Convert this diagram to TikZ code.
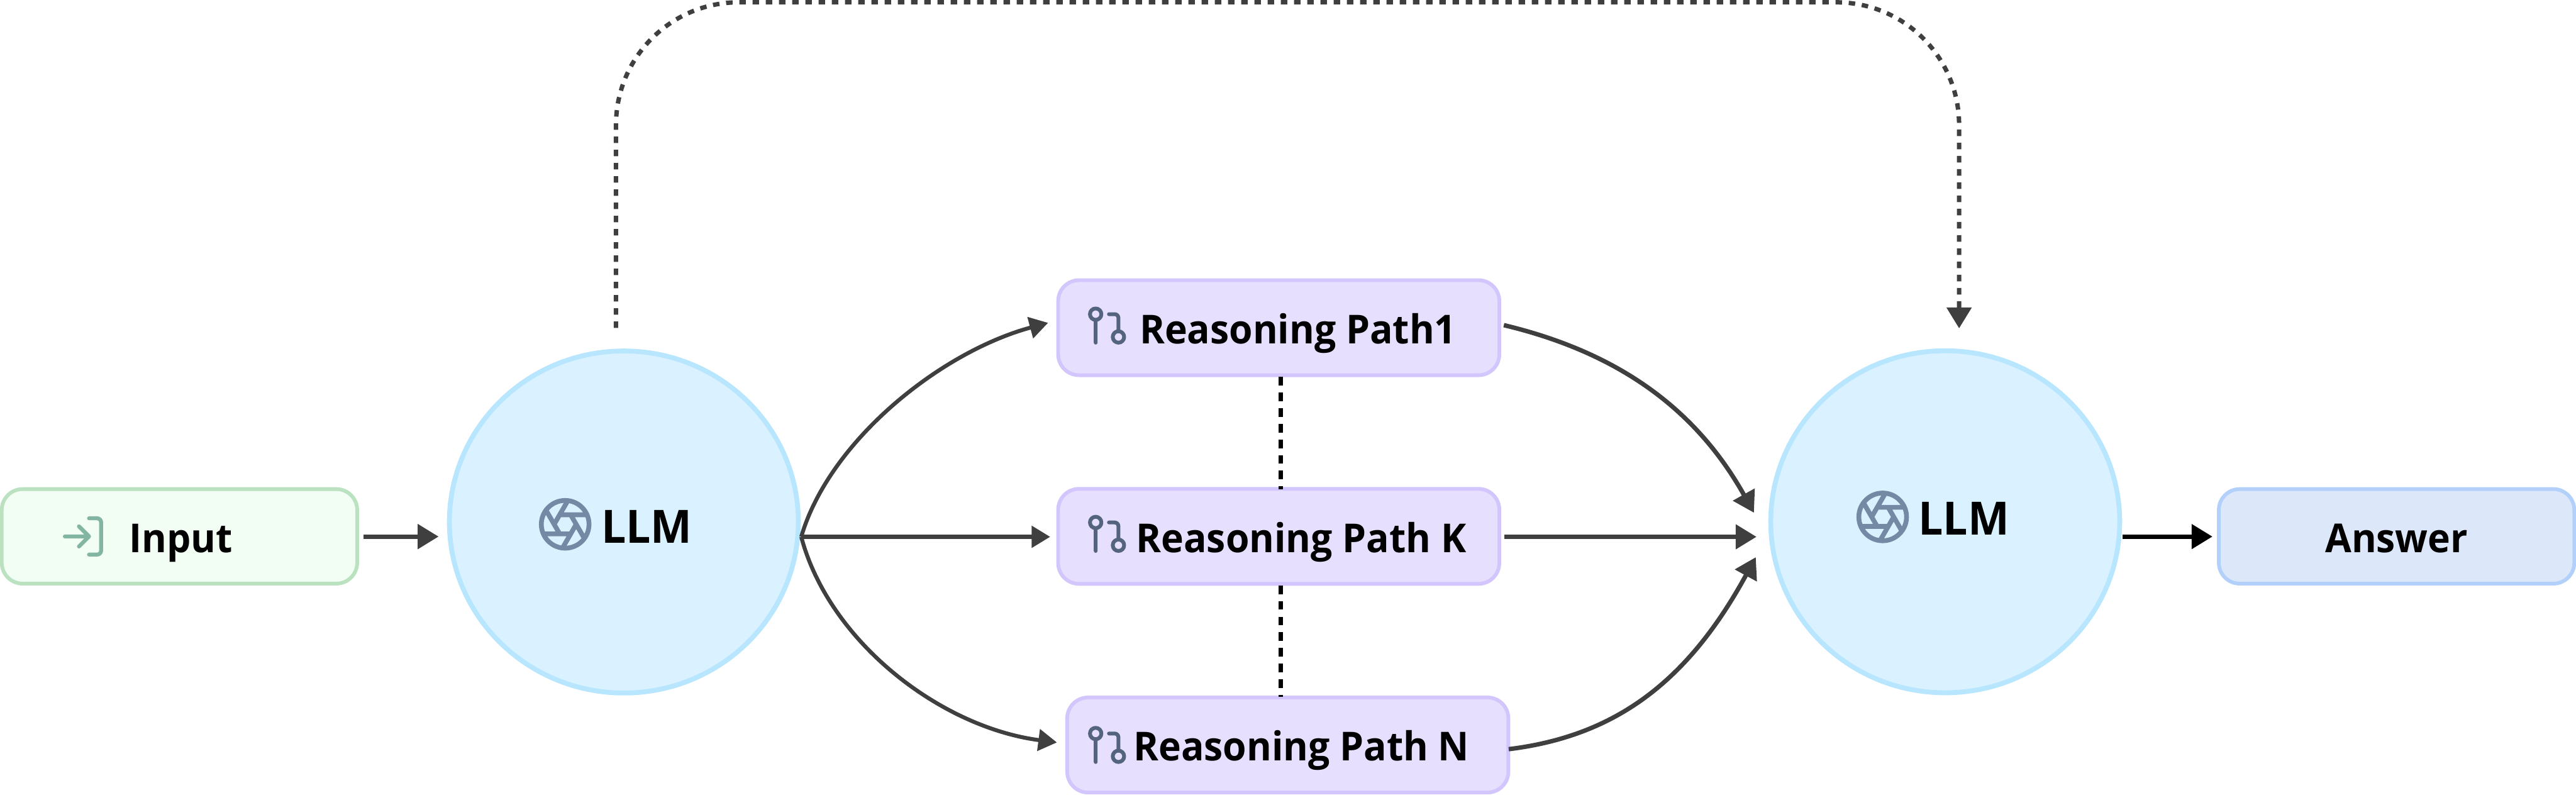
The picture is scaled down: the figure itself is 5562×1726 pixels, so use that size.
\documentclass[tikz,border=0pt]{standalone}
\usepackage{fontspec}
\setmainfont[FakeStretch=0.955]{Open Sans}
\usetikzlibrary{arrows.meta,shapes.geometric}
\definecolor{arrowgrey}{HTML}{3F3F3F}
\definecolor{inputfill}{HTML}{F2FDF4}
\definecolor{inputline}{HTML}{BBE2C0}
\definecolor{llmfill}{HTML}{DAF2FF}
\definecolor{llmline}{HTML}{B9E6FF}
\definecolor{pathfill}{HTML}{E6DFFE}
\definecolor{pathline}{HTML}{D3C6FD}
\definecolor{ansfill}{HTML}{DCE8FA}
\definecolor{ansline}{HTML}{B3D0FB}
\definecolor{iconin}{HTML}{83B5A3}
\definecolor{iconap}{HTML}{7489A3}
\definecolor{icongit}{HTML}{54647F}
\tikzset{
  boxbase/.style={draw,line width=.08cm,rounded corners=.45cm,inner sep=0pt,outer sep=0pt,
    font=\fontsize{24.5pt}{28pt}\selectfont\bfseries,text=black,
    text height=.9cm,text depth=.21cm},
  inputbox/.style={boxbase,fill=inputfill,draw=inputline,minimum width=7.67cm,minimum height=2.04cm},
  pathbox/.style={boxbase,fill=pathfill,draw=pathline,minimum width=9.52cm,minimum height=2.05cm},
  ansbox/.style={boxbase,fill=ansfill,draw=ansline,minimum width=7.67cm,minimum height=2.04cm},
  llmnode/.style={ellipse,draw=llmline,fill=llmfill,line width=.105cm,inner sep=0pt,outer sep=0pt,
    minimum width=7.53cm,minimum height=7.38cm,
    font=\fontsize{28.2pt}{32pt}\selectfont\bfseries,text=black},
  conn/.style={draw=arrowgrey,line width=.095cm,-{Triangle[length=.45cm,width=.52cm]}},
  connthin/.style={draw=arrowgrey,line width=.085cm,-{Triangle[length=.40cm,width=.46cm]}},
  connblack/.style={draw=black,line width=.095cm,-{Triangle[length=.45cm,width=.52cm]}},
  skipline/.style={draw=arrowgrey,line width=.095cm,dash pattern=on .14cm off .145cm,
    rounded corners=2.65cm,-{Triangle[length=.45cm,width=.52cm]}},
  betweenline/.style={draw=black,line width=.095cm,dash pattern=on .187cm off .15cm},
  loginicon/.pic={
    \draw[iconin,line width=.085cm,line cap=round,line join=round,rounded corners=.087cm]
      (15,3) -- (21,3) -- (21,21) -- (15,21);
    \draw[iconin,line width=.085cm,line cap=round,line join=round]
      (10,17) -- (15,12) -- (10,7) (15,12) -- (3,12);
  },
  apertureicon/.pic={
    \draw[iconap,line width=.103cm,line cap=round,line join=round]
      (12,12) circle[radius=10]
      (14.31,8) -- (20.05,17.94)
      (9.69,8) -- (21.17,8)
      (7.38,12) -- (13.12,2.06)
      (9.69,16) -- (3.95,6.06)
      (14.31,16) -- (2.83,16)
      (16.62,12) -- (10.88,21.94);
  },
  giticon/.pic={
    \draw[icongit,line width=.082cm,line cap=round,line join=round]
      (6,6) circle[radius=3] (18,18) circle[radius=3] (6,9) -- (6,21);
    \draw[icongit,line width=.082cm,line cap=round,line join=round,rounded corners=.082cm]
      (13,6) -- (18,6) -- (18,15);
  }
}
\begin{document}
\begin{tikzpicture}[x=.01cm,y=-.01cm]
\useasboundingbox (0,0) rectangle (5562,1726);

% nodes
\node[inputbox] (input) at (387.5,1158) {\hspace*{.07cm}Input};
\node[llmnode,text height=1cm,text depth=.1cm] (llmA) at (1347,1127) {\hspace*{.99cm}LLM};
\node[pathbox] (pathA) at (2761,707.5) {\hspace*{.83cm}Reasoning Path1};
\node[pathbox] (pathK) at (2761,1158) {\hspace*{.97cm}Reasoning Path K};
\node[pathbox,text depth=.22cm] (pathN) at (2780.5,1608.5) {\hspace*{.59cm}Reasoning Path N};
\node[llmnode,text height=.8cm,text depth=.22cm] (llmB) at (4200,1126.5) {\hspace*{.8cm}LLM};
\node[ansbox] (answer) at (5174.5,1158) {Answer};

% icons
\pic[scale=4.35] at (127,1106) {loginicon};
\pic[scale=5.15] at (1158.5,1070.2) {apertureicon};
\pic[scale=5.15] at (4003.2,1054.2) {apertureicon};
\pic[scale=4.1] at (2341.1,653.7) {giticon};
\pic[scale=4.1] at (2341.1,1103.4) {giticon};
\pic[scale=4.1] at (2341.1,1559.1) {giticon};

% named free ends
\coordinate (fanOut) at (1730,1159);
\coordinate (inA) at (2263,697);
\coordinate (inK) at (2267.5,1159);
\coordinate (inN) at (2282,1603);
\coordinate (outA) at (3247,702);
\coordinate (outK) at (3248,1159);
\coordinate (outN) at (3257.5,1617.5);
\coordinate (tipA) at (3787,1107);
\coordinate (tipK) at (3792.5,1159);
\coordinate (tipN) at (3791,1203);
\coordinate (inputOut) at (785,1158.5);
\coordinate (llmIn) at (947,1158.5);
\coordinate (llmOut) at (4583,1158.5);
\coordinate (ansIn) at (4777,1158.5);
\coordinate (skipStart) at (1330,708);
\coordinate (skipEnd) at (4230,709);
\coordinate (gapA) at (2766,814);
\coordinate (gapB) at (2766,1056);
\coordinate (gapC) at (2766,1264);
\coordinate (gapD) at (2766,1504);

% connectors
\draw[conn] (inputOut) -- (llmIn);
\draw[connthin] (fanOut) .. controls (1790,953) and (2030,760) .. (inA);
\draw[connthin] (fanOut) -- (inK);
\draw[connthin] (fanOut) .. controls (1790,1385) and (2030,1570) .. (inN);
\draw[conn] (outA) .. controls (3490,760) and (3660,880) .. (tipA);
\draw[conn] (outK) -- (tipK);
\draw[conn] (outN) .. controls (3480,1590) and (3640,1480) .. (tipN);
\draw[connblack] (llmOut) -- (ansIn);
\draw[skipline] (skipStart) -- (1330,5) -- (4230,5) -- (skipEnd);
\draw[betweenline] (gapA) -- (gapB);
\draw[betweenline] (gapC) -- (gapD);
\end{tikzpicture}
\end{document}
